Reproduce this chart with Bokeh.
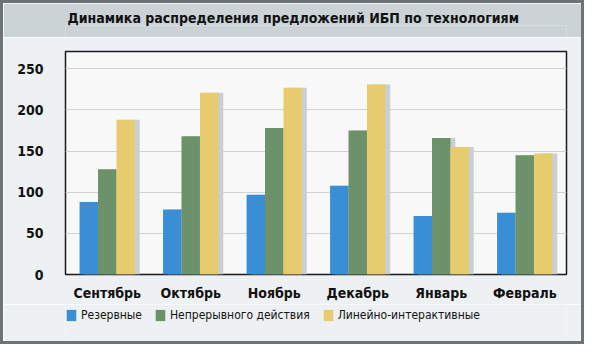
from bokeh.plotting import figure
from bokeh.models import FactorRange, Range1d, FixedTicker, Legend, LegendItem, ColumnDataSource, Title
from bokeh.transform import dodge
from bokeh.layouts import column
from bokeh.embed import file_html
from bokeh.resources import INLINE

# ---- data ----
months = ["Сентябрь", "Октябрь", "Ноябрь", "Декабрь", "Январь", "Февраль"]
reserve = [88, 79, 97, 108, 71, 75]
online = [128, 168, 178, 175, 166, 145]
line_interactive = [188, 221, 227, 231, 155, 147]
series_names = ["Резервные", "Непрерывного действия", "Линейно-интерактивные"]
y_ticks = [0, 50, 100, 150, 200, 250]
title_text = "Динамика распределения предложений ИБП по технологиям"

# ---- style ----
COLORS = ["#3a8ed4", "#6d926a", "#e7cb6f"]
SHADOW = "#c9d0d3"
BAND = "#cbd3d6"
BODY = "#eef1f4"
FRAME_BG = "#f8f8f8"
FONT = "DejaVu Sans Condensed"
W = 578
LB, RB = 62, 15

src = ColumnDataSource(dict(months=months, s0=reserve, s1=online, s2=line_interactive))

# ---- title band ----
t = figure(width=W, height=34, x_range=Range1d(0, 1), y_range=Range1d(0, 1),
           toolbar_location=None, output_backend="svg",
           min_border_left=LB, min_border_right=RB, min_border_top=22, min_border_bottom=0,
           x_axis_location=None, y_axis_location=None)
t.grid.visible = False
t.outline_line_color = None
t.background_fill_color = BAND
t.border_fill_color = BAND
t.title = Title(text=title_text, align="left", offset=2, standoff=0,
                text_font=FONT, text_font_style="bold", text_font_size="14px",
                text_color="#111111")

# ---- main chart ----
p = figure(width=W, height=267, x_range=FactorRange(*months), y_range=Range1d(0, 271),
           toolbar_location=None, output_backend="svg",
           min_border_left=LB, min_border_right=RB, min_border_top=14, min_border_bottom=30)
p.background_fill_color = FRAME_BG
p.border_fill_color = BODY
p.outline_line_color = "#1a1a1a"
p.outline_line_width = 1.5
p.xgrid.visible = False
p.ygrid.grid_line_color = "#cfd2d4"
p.ygrid.grid_line_width = 1.2

bw = 0.221
offs = [-bw, 0.0, bw]
sh = 0.058
for i, off in enumerate(offs):
    p.vbar(x=dodge("months", off + sh, range=p.x_range), top="s%d" % i, width=bw,
           source=src, fill_color=SHADOW, line_color=None)
for i, off in enumerate(offs):
    p.vbar(x=dodge("months", off, range=p.x_range), top="s%d" % i, width=bw,
           source=src, fill_color=COLORS[i], line_color=None)

p.yaxis.ticker = FixedTicker(ticks=y_ticks)
p.yaxis.axis_line_color = None
p.yaxis.major_tick_line_color = None
p.yaxis.minor_tick_line_color = None
p.yaxis.major_label_standoff = 16
p.yaxis.major_label_text_font = FONT
p.yaxis.major_label_text_font_style = "bold"
p.yaxis.major_label_text_font_size = "14px"
p.yaxis.major_label_text_color = "#111111"

p.xaxis.axis_line_color = None
p.xaxis.major_tick_line_color = None
p.xaxis.major_label_standoff = 4
p.xaxis.major_label_text_font = FONT
p.xaxis.major_label_text_font_style = "bold"
p.xaxis.major_label_text_font_size = "14px"
p.xaxis.major_label_text_color = "#111111"

# ---- legend strip ----
lg = figure(width=W, height=37, x_range=Range1d(0, 1), y_range=Range1d(0, 1),
            toolbar_location=None, output_backend="svg",
            min_border_left=LB, min_border_right=RB, min_border_top=0, min_border_bottom=0,
            x_axis_location=None, y_axis_location=None)
lg.grid.visible = False
lg.outline_line_color = None
lg.background_fill_color = BODY
lg.border_fill_color = BODY
items = []
for i, name in enumerate(series_names):
    # swatch renderer placed outside the visible range; only its legend glyph is shown
    r = lg.quad(left=[-3], right=[-2], bottom=[-3], top=[-2], fill_color=COLORS[i], line_color=None)
    items.append(LegendItem(label=name, renderers=[r]))
legend = Legend(items=items, orientation="horizontal", location=(0, 19), padding=0, margin=0,
                spacing=12, label_standoff=4, glyph_width=12, glyph_height=14,
                label_text_font=FONT, label_text_font_size="12px", label_text_color="#111111",
                background_fill_alpha=0, border_line_color=None)
lg.add_layout(legend, "center")

layout = column(t, p, lg, styles={"border": "3px solid #6e7378"})
open("out.html", "w").write(file_html(layout, INLINE))
